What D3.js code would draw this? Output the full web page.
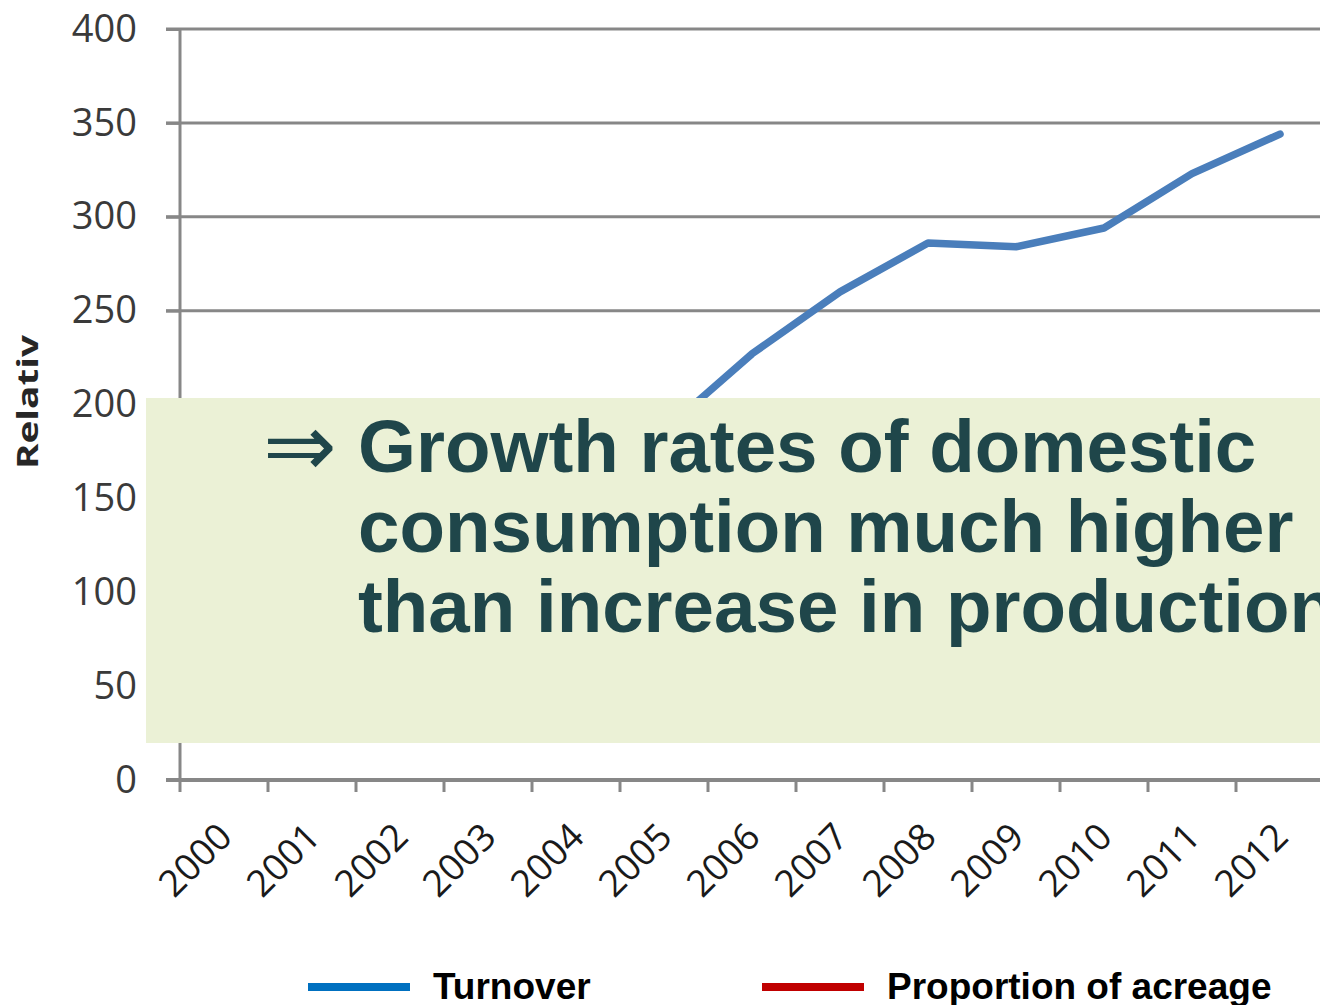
<!DOCTYPE html>
<html>
<head>
<meta charset="utf-8">
<script src="https://cdn.jsdelivr.net/npm/d3@7"></script>
<style>
  html, body { margin: 0; padding: 0; background: #fff; overflow: hidden; }
</style>
</head>
<body>
<div id="chart"></div>
<script>
// categories and series
const years = ["2000","2001","2002","2003","2004","2005","2006","2007","2008","2009","2010","2011","2012"];
// 2000-2005 lie behind the text box in the picture, so these are rough guesses
const turnover = [100, 108, 118, 135, 155, 186, 227, 260, 286, 284, 294, 323, 344];
const acreage  = [100, 104, 108, 112, 118, 124, 130, 136, 142, 146, 150, 156, 162];
const yTicks = [0, 50, 100, 150, 200, 250, 300, 350, 400];
const legendLabels = ["Turnover", "Proportion of acreage"];
const noteLines = ["Growth rates of domestic", "consumption much higher", "than increase in production"];

const width = 1320, height = 1005;
const axisGrey = "#878787";

const svg = d3.select("#chart").append("svg")
    .attr("width", width)
    .attr("height", height);

// scales: categories sit between the tick marks, 88px each
const x = d3.scaleBand().domain(years).range([180, 180 + 88 * years.length]).padding(0);
const y = d3.scaleLinear().domain([0, 400]).range([780, 29]);

// gridlines
svg.append("g")
    .selectAll("line")
    .data(yTicks.filter(d => d > 0))
    .enter().append("line")
    .attr("x1", 166).attr("x2", width)
    .attr("y1", d => y(d)).attr("y2", d => y(d))
    .attr("stroke", axisGrey)
    .attr("stroke-width", 3);

// y axis
const yAxis = svg.append("g")
    .attr("transform", "translate(180,0)")
    .call(d3.axisLeft(y).tickValues(yTicks).tickSize(14).tickPadding(29));
yAxis.select(".domain").attr("stroke", axisGrey).attr("stroke-width", 3).attr("d", `M0,${y(0)}V${y(400)}`);
yAxis.selectAll(".tick line").attr("stroke", axisGrey).attr("stroke-width", 3);
yAxis.selectAll(".tick text")
    .attr("font-family", "'Open Sans', sans-serif")
    .attr("font-size", 38)
    .attr("fill", "#3a3a3a");

// x axis line + tick marks on category boundaries
svg.append("line")
    .attr("x1", 166).attr("x2", width)
    .attr("y1", y(0)).attr("y2", y(0))
    .attr("stroke", axisGrey).attr("stroke-width", 4);
svg.append("g")
    .selectAll("line")
    .data(years)
    .enter().append("line")
    .attr("x1", d => x(d)).attr("x2", d => x(d))
    .attr("y1", y(0)).attr("y2", y(0) + 12)
    .attr("stroke", axisGrey).attr("stroke-width", 3);

// rotated year labels
svg.append("g")
    .selectAll("text")
    .data(years)
    .enter().append("text")
    .attr("transform", d => `translate(${x(d) + x.bandwidth() / 2 + 1},${y(0) + 50}) rotate(-45)`)
    .attr("text-anchor", "end")
    .attr("dy", "0.35em")
    .attr("font-family", "'Open Sans', sans-serif")
    .attr("font-size", 37)
    .attr("fill", "#1a1a1a")
    .text(d => d);

// y axis title
svg.append("text")
    .attr("transform", "translate(38,402) rotate(-90)")
    .attr("text-anchor", "middle")
    .attr("font-family", "'Open Sans', sans-serif")
    .attr("font-weight", "bold")
    .attr("font-size", 29)
    .attr("textLength", 134)
    .attr("lengthAdjust", "spacingAndGlyphs")
    .attr("fill", "#262626")
    .text("Relativ");

// series lines
const line = d3.line()
    .x((d, i) => x(years[i]) + x.bandwidth() / 2)
    .y(d => y(d));

svg.append("path")
    .datum(acreage)
    .attr("d", line)
    .attr("fill", "none")
    .attr("stroke", "#be4b48")
    .attr("stroke-width", 7.5)
    .attr("stroke-linejoin", "round")
    .attr("stroke-linecap", "round");

svg.append("path")
    .datum(turnover)
    .attr("d", line)
    .attr("fill", "none")
    .attr("stroke", "#4a7ebb")
    .attr("stroke-width", 7.5)
    .attr("stroke-linejoin", "round")
    .attr("stroke-linecap", "round");

// text box laid over the chart
svg.append("rect")
    .attr("x", 146).attr("y", 398)
    .attr("width", width - 146).attr("height", 345)
    .attr("fill", "#ebf1d6");

svg.append("text")
    .attr("x", 263).attr("y", 476)
    .attr("font-family", "'DejaVu Sans', sans-serif")
    .attr("font-size", 88)
    .attr("fill", "#1f464a")
    .text("\u21D2");

svg.append("g")
    .selectAll("text")
    .data(noteLines)
    .enter().append("text")
    .attr("x", 358)
    .attr("y", (d, i) => 472 + i * 80)
    .attr("font-family", "'Liberation Sans', Arial, sans-serif")
    .attr("font-weight", "bold")
    .attr("font-size", 74.5)
    .attr("fill", "#1f464a")
    .text(d => d);

// legend
const legendColors = ["#0070c0", "#c00000"];
const legendX = [308, 762];
const legend = svg.append("g")
    .selectAll("g")
    .data(legendLabels)
    .enter().append("g")
    .attr("transform", (d, i) => `translate(${legendX[i]},987)`);

legend.append("line")
    .attr("x1", 0).attr("x2", 102)
    .attr("stroke", (d, i) => legendColors[i])
    .attr("stroke-width", 8);

legend.append("text")
    .attr("x", 125)
    .attr("y", 12)
    .attr("font-family", "'Liberation Sans', Arial, sans-serif")
    .attr("font-weight", "bold")
    .attr("font-size", 37)
    .attr("fill", "#000")
    .text(d => d);
</script>
</body>
</html>
